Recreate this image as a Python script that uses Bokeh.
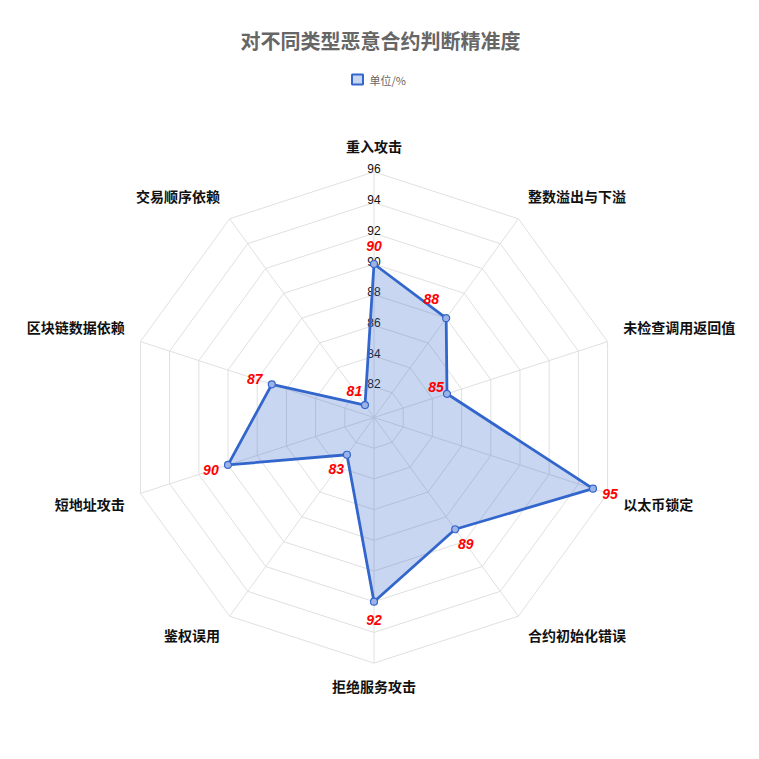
import math
from bokeh.plotting import figure
from bokeh.models import Range1d, ColumnDataSource, Label
from bokeh.core.properties import value
from bokeh.embed import file_html
from bokeh.resources import INLINE

categories = ["重入攻击", "整数溢出与下溢", "未检查调用返回值", "以太币锁定", "合约初始化错误",
              "拒绝服务攻击", "鉴权误用", "短地址攻击", "区块链数据依赖", "交易顺序依赖"]
accuracy = [90, 88, 85, 95, 89, 92, 83, 90, 87, 81]
ticks = [82, 84, 86, 88, 90, 92, 94, 96]
r_min, r_max = 80, 96
series_name = "单位/%"
title_text = "对不同类型恶意合约判断精准度"

W = H = 759
K = 15.35          # pixels per value unit
CX, CY = 373.5, 417.0

def px(x, y):
    return (x - CX) / K, (CY - y) / K

p = figure(width=W, height=H, output_backend="svg", toolbar_location=None,
           x_range=Range1d(-CX / K, (W - CX) / K), y_range=Range1d(-(H - CY) / K, CY / K),
           min_border=0, outline_line_color=None)
p.axis.visible = False
p.grid.visible = False
p.background_fill_color = "white"

n = len(categories)
ang = [2 * math.pi * i / n for i in range(n)]

# grid rings
ring_xs, ring_ys = [], []
for t in ticks:
    r = t - r_min
    xs_ = [r * math.sin(a) for a in ang]
    ys_ = [r * math.cos(a) for a in ang]
    ring_xs.append(xs_ + [xs_[0]])
    ring_ys.append(ys_ + [ys_[0]])
p.multi_line(ring_xs, ring_ys, line_color="#e0e0e0", line_width=1)
R = r_max - r_min
p.multi_line([[0, R * math.sin(a)] for a in ang], [[0, R * math.cos(a)] for a in ang],
             line_color="#e0e0e0", line_width=1)

# tick labels
p.text(x=[0] * len(ticks), y=[t - r_min for t in ticks], text=[str(t) for t in ticks],
       text_font=value("Liberation Sans"), text_font_size="12px", text_color="#111111",
       text_align="center", text_baseline="middle", y_offset=-3)

# data polygon
rs = [v - r_min for v in accuracy]
xs = [r * math.sin(a) for r, a in zip(rs, ang)]
ys = [r * math.cos(a) for r, a in zip(rs, ang)]
p.patch(xs + [xs[0]], ys + [ys[0]], fill_color="#3366cc", fill_alpha=0.27,
        line_color="#3366cc", line_width=2.8)
p.scatter(xs, ys, size=7, fill_color="#9db3e6", line_color="#3366cc", line_width=1.2)

# value labels
d = 18
xo = [d * math.sin(a) for a in ang]
yo = [-d * math.cos(a) for a in ang]
xo[1], yo[1] = -15, -19
xo[2], yo[2] = -11, -7
src = ColumnDataSource(dict(x=xs, y=ys, t=[str(v) for v in accuracy], xo=xo, yo=yo))
p.text(x="x", y="y", text="t", x_offset="xo", y_offset="yo", source=src,
       text_font=value("Liberation Sans"), text_font_size="14px", text_font_style="bold italic",
       text_color="#ff0000", text_align="center", text_baseline="middle")

# category labels
rl = 262 / K
cx_, cy_, al, bl, oy = [], [], [], [], []
for a in ang:
    sx, cy = math.sin(a), math.cos(a)
    cx_.append(rl * sx)
    cy_.append(rl * cy)
    al.append("center" if abs(sx) < 0.01 else ("left" if sx > 0 else "right"))
    bl.append("bottom" if cy > 0.01 else ("top" if cy < -0.01 else "middle"))
    oy.append(-4 if cy < -0.01 else 0)
csrc = ColumnDataSource(dict(x=cx_, y=cy_, t=categories, al=al, bl=bl, oy=oy))
p.text(x="x", y="y", text="t", text_align="al", text_baseline="bl", y_offset="oy", source=csrc,
       text_font=value("Noto Sans CJK SC"), text_font_size="14px", text_font_style="bold",
       text_color="#111111")

# title
tx, ty = px(380, 40)
p.add_layout(Label(x=tx, y=ty, text=title_text, text_font="Noto Sans CJK SC",
                   text_font_size="20px", text_font_style="bold", text_color="#666666",
                   text_align="center", text_baseline="middle"))
# legend
lx, ly = px(357, 79)
p.rect(x=[lx], y=[ly], width=11 / K, height=10 / K, fill_color="#c8d5f1",
       line_color="#3366cc", line_width=2)
gx, gy = px(369, 79)
p.add_layout(Label(x=gx, y=gy, text=series_name, text_font="Noto Sans CJK SC",
                   text_font_size="11px", text_color="#666666",
                   text_align="left", text_baseline="middle"))

open("out.html", "w").write(file_html(p, INLINE))
